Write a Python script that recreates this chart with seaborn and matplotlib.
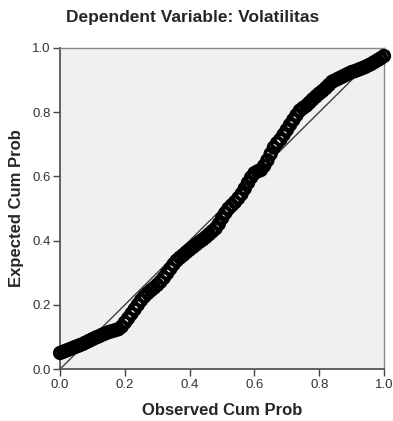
import numpy as np
import pandas as pd
import seaborn as sns
import matplotlib
matplotlib.use('Agg')
import matplotlib.pyplot as plt

# values
observed = [0.00, 0.01, 0.02, 0.03, 0.04, 0.05, 0.06, 0.07, 0.08, 0.09,
            0.10, 0.11, 0.12, 0.13, 0.14, 0.15, 0.16, 0.17, 0.18, 0.19,
            0.20, 0.21, 0.22, 0.23, 0.24, 0.25, 0.26, 0.27, 0.28, 0.29,
            0.30, 0.31, 0.32, 0.33, 0.34, 0.35, 0.36, 0.37, 0.38, 0.39,
            0.40, 0.41, 0.42, 0.43, 0.44, 0.45, 0.46, 0.47, 0.48, 0.49,
            0.50, 0.51, 0.52, 0.53, 0.54, 0.55, 0.56, 0.57, 0.58, 0.59,
            0.60, 0.61, 0.62, 0.63, 0.64, 0.65, 0.66, 0.67, 0.68, 0.69,
            0.70, 0.71, 0.72, 0.73, 0.74, 0.75, 0.76, 0.77, 0.78, 0.79,
            0.80, 0.81, 0.82, 0.83, 0.84, 0.85, 0.86, 0.87, 0.88, 0.89,
            0.90, 0.91, 0.92, 0.93, 0.94, 0.95, 0.96, 0.97, 0.98, 0.99, 1.00]
expected = [0.050, 0.054, 0.058, 0.062, 0.066, 0.070, 0.074, 0.078, 0.083, 0.088,
            0.093, 0.098, 0.102, 0.107, 0.111, 0.115, 0.118, 0.121, 0.124, 0.132,
            0.145, 0.158, 0.172, 0.186, 0.200, 0.214, 0.226, 0.236, 0.245, 0.253,
            0.262, 0.272, 0.284, 0.298, 0.312, 0.326, 0.338, 0.347, 0.355, 0.364,
            0.372, 0.380, 0.388, 0.396, 0.403, 0.411, 0.420, 0.429, 0.438, 0.452,
            0.470, 0.486, 0.500, 0.510, 0.520, 0.532, 0.545, 0.562, 0.580, 0.597,
            0.610, 0.616, 0.620, 0.633, 0.650, 0.670, 0.690, 0.704, 0.715, 0.730,
            0.745, 0.761, 0.776, 0.791, 0.805, 0.813, 0.820, 0.830, 0.840, 0.849,
            0.858, 0.866, 0.875, 0.885, 0.895, 0.900, 0.905, 0.910, 0.915, 0.920,
            0.925, 0.928, 0.932, 0.936, 0.940, 0.945, 0.950, 0.956, 0.962, 0.968, 0.975]
ticks = [0.0, 0.2, 0.4, 0.6, 0.8, 1.0]
tick_labels = ['0.0', '0.2', '0.4', '0.6', '0.8', '1.0']

df = pd.DataFrame({'Observed Cum Prob': observed, 'Expected Cum Prob': expected})
diag = pd.DataFrame({'x': [0.0, 1.0], 'y': [0.0, 1.0]})

sns.set_style('ticks')
plt.rcParams['font.family'] = ['Liberation Sans', 'DejaVu Sans']

fig = plt.figure(figsize=(3.93, 4.21), dpi=100)
ax = fig.add_axes([0.153, 0.1235, 0.824, 0.7625])
ax.set_facecolor('#f0f0f0')

sns.lineplot(data=diag, x='x', y='y', color='#404040', linewidth=1.0, ax=ax)
sns.scatterplot(data=df, x='Observed Cum Prob', y='Expected Cum Prob',
                marker='o', s=60, facecolor='none', edgecolor='black',
                linewidth=2.6, ax=ax, zorder=3, clip_on=False)

ax.set_xlim(0, 1)
ax.set_ylim(0, 1)
ax.set_xticks(ticks)
ax.set_xticklabels(tick_labels)
ax.set_yticks(ticks)
ax.set_yticklabels(tick_labels)
ax.tick_params(axis='both', direction='out', length=5, width=1, color='#444444',
               labelsize=9.5, labelcolor='#333333', pad=2)

for side in ['left', 'bottom']:
    ax.spines[side].set_color('#555555')
    ax.spines[side].set_linewidth(1.3)
for side in ['top', 'right']:
    ax.spines[side].set_visible(True)
    ax.spines[side].set_color('#888888')
    ax.spines[side].set_linewidth(1.0)

ax.set_xlabel('Observed Cum Prob', fontsize=12, fontweight='bold', labelpad=9)
ax.set_ylabel('Expected Cum Prob', fontsize=12, fontweight='bold', labelpad=6)

fig.text(0.49, 0.958, 'Dependent Variable: Volatilitas', ha='center', va='center',
         fontsize=12.5, fontweight='bold')

fig.savefig('out.png', dpi=100)
